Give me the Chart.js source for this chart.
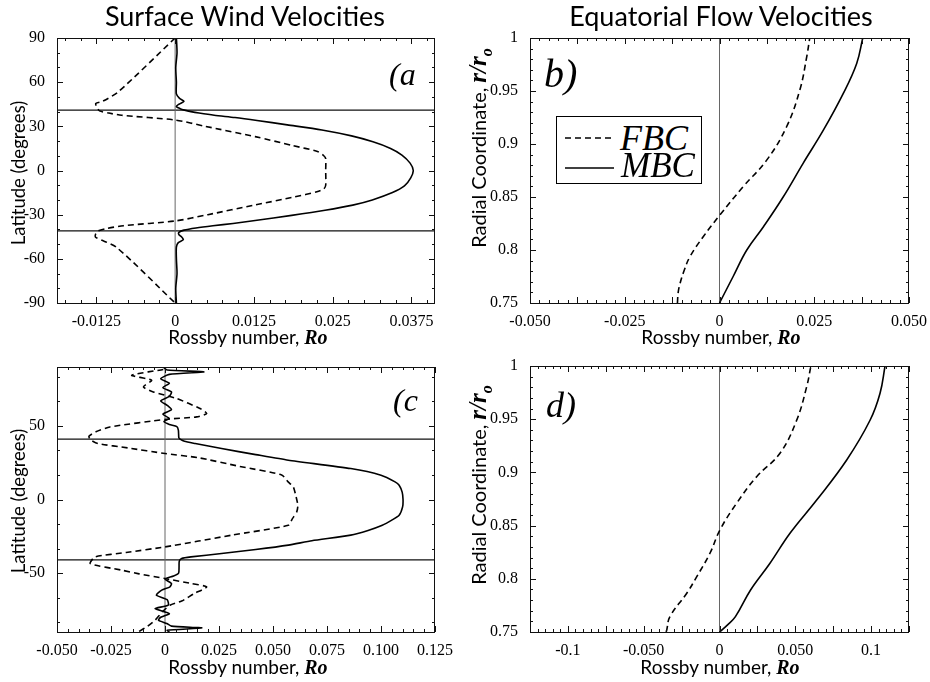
<!DOCTYPE html>
<html>
<head>
<meta charset="utf-8">
<script src="https://cdn.jsdelivr.net/npm/chart.js@4.4.1/dist/chart.umd.min.js"></script>
<style>
body{margin:0;background:#fff;}
#wrap{position:relative;width:930px;height:682px;overflow:hidden;font-family:Lato,"Open Sans",sans-serif;color:#000;}
canvas{position:absolute;}
.t{position:absolute;white-space:nowrap;line-height:1;}
.title{font-size:27px;width:400px;text-align:center;top:2px;}
.xt{font-size:19px;width:300px;text-align:center;}
.yt{font-size:18.5px;transform:translate(-50%,-50%) rotate(-90deg);}
.sym{font-family:"Liberation Serif",serif;font-weight:bold;font-style:italic;font-size:20px;}
.pl{font-family:"Liberation Serif",serif;font-style:italic;}
#legend{position:absolute;left:556px;top:116px;width:144px;height:66px;border:1px solid #000;background:#fff;}
</style>
</head>
<body>
<div id="wrap">
  <canvas id="pa" width="465" height="341" style="left:0;top:0"></canvas>
  <canvas id="pb" width="465" height="341" style="left:465px;top:0"></canvas>
  <canvas id="pc" width="465" height="341" style="left:0;top:341px"></canvas>
  <canvas id="pd" width="465" height="341" style="left:465px;top:341px"></canvas>

  <div class="t title" style="left:45px">Surface Wind Velocities</div>
  <div class="t title" style="left:521px">Equatorial Flow Velocities</div>

  <div class="t xt" style="left:98px;top:327px">Rossby number, <span class="sym">Ro</span></div>
  <div class="t xt" style="left:571px;top:327px">Rossby number, <span class="sym">Ro</span></div>
  <div class="t xt" style="left:98px;top:657px">Rossby number, <span class="sym">Ro</span></div>
  <div class="t xt" style="left:570px;top:657px">Rossby number, <span class="sym">Ro</span></div>

  <div class="t yt" style="left:18px;top:173px">Latitude (degrees)</div>
  <div class="t yt" style="left:18px;top:501px">Latitude (degrees)</div>
  <div class="t yt" style="left:480px;top:148px;font-size:20px">Radial Coordinate, <span class="sym" style="font-size:25px">r/r<sub style="font-size:16px">o</sub></span></div>
  <div class="t yt" style="left:480px;top:485px;font-size:20px">Radial Coordinate, <span class="sym" style="font-size:25px">r/r<sub style="font-size:16px">o</sub></span></div>

  <div class="t pl" style="left:389px;top:58px;font-size:32px">(a</div>
  <div class="t pl" style="left:544px;top:54px;font-size:40px">b)</div>
  <div class="t pl" style="left:393px;top:384px;font-size:32px">(c</div>
  <div class="t pl" style="left:546px;top:387px;font-size:36px">d)</div>

  <div id="legend">
    <svg width="144" height="66" style="position:absolute;left:0;top:0">
      <line x1="8" y1="21" x2="57" y2="21" stroke="#000" stroke-width="1.6" stroke-dasharray="6,4"/>
      <line x1="8" y1="51" x2="57" y2="51" stroke="#000" stroke-width="1.6"/>
    </svg>
    <div class="t pl" style="left:63px;top:3px;font-size:36px">FBC</div>
    <div class="t pl" style="left:64px;top:31px;font-size:35px">MBC</div>
  </div>
</div>

<script>
// (a) surface wind, latitude vs Rossby number
const latA_mbc = [90, 80, 70, 60, 52, 49, 47, 45, 43.5, 42, 41, 40, 39, 37.5, 36, 34, 31, 27.5, 23.5, 19.5, 15, 10.5, 5, 0,
  -5, -10.5, -15, -20, -23.5, -27, -30.5, -34, -36, -37.5, -39, -40.5, -42, -43.5, -45, -47, -49, -52, -60, -70, -80, -90];
const roA_mbc = [0.0002, 0.0003, 0.0001, 0.0002, 0.0002, 0.0007, 0.0014, 0.0006, 0.0002, 0.0008, 0.0015, 0.0025, 0.0038, 0.0062, 0.0095, 0.013, 0.0178, 0.0233, 0.028, 0.0314, 0.0342, 0.036, 0.0373, 0.0378,
  0.0374, 0.0364, 0.0345, 0.0313, 0.0282, 0.0238, 0.0185, 0.0127, 0.0092, 0.006, 0.0033, 0.0014, 0.0006, 0.0006, 0.0010, 0.0013, 0.0005, 0.0002, 0.0002, 0.0003, 0.0001, 0.0002];
const latA_fbc = [90, 53.5, 47, 45.5, 43, 40.5, 39, 37.5, 34.3, 30, 23, 17, 12.8, 10, 8, 0,
  -10, -12.5, -14.5, -18, -23.4, -30, -34.3, -37.5, -39.5, -41, -43, -45.4, -52.2, -90];
const roA_fbc = [0, -0.009, -0.0115, -0.0126, -0.0124, -0.012, -0.0105, -0.0085, 0, 0.0048, 0.0127, 0.0186, 0.0227, 0.0236, 0.0239, 0.0239,
  0.0239, 0.0236, 0.0225, 0.0189, 0.0127, 0.0052, 0, -0.0082, -0.011, -0.0122, -0.0126, -0.0126, -0.0093, 0];

// (b) equatorial flow, radius vs Rossby number
const rB_fbc = [0.75, 0.76, 0.7686, 0.78, 0.7937, 0.8125, 0.833, 0.86, 0.885, 0.9163, 0.951, 0.982, 1.0];
const roB_fbc = [-0.0111, -0.0109, -0.0104, -0.0094, -0.0078, -0.0043, 0.0001, 0.0063, 0.0125, 0.0177, 0.0212, 0.023, 0.0238];
const rB_mbc = [0.75, 0.775, 0.80, 0.822, 0.85, 0.882, 0.913, 0.948, 0.976, 1.0];
const roB_mbc = [0, 0.0036, 0.0072, 0.0116, 0.0168, 0.0221, 0.0274, 0.0327, 0.0362, 0.0378];

// (c) surface wind, second case
const latC_mbc = [90, 88, 86.7, 85, 82, 79, 76, 73, 70, 67, 64, 61, 58, 55, 53, 51, 49.5, 47, 42, 41, 39.5, 38, 34.6, 30.5, 26.7, 21, 16.5, 12, 9.7, 5, 0,
  -5, -10.7, -14, -17.5, -21, -24.2, -28, -31, -34, -36.7, -39, -40.1, -42, -46, -50, -52, -54, -57.1, -59.3, -61.6, -65, -68, -71.8, -74.1, -77.5, -80, -82, -84.2, -86, -87.2, -88.8, -90];
const roC_mbc = [-0.0008, 0.001, 0.018, 0.002, -0.002, 0.002, -0.001, 0.003, 0.002, -0.002, 0.001, 0.003, -0.001, 0.002, -0.0005, 0.002, 0.0055, 0.0062, 0.0064, 0.007, 0.009, 0.014, 0.0262, 0.042, 0.0571, 0.086, 0.1, 0.1065, 0.1084, 0.1098, 0.1102,
  0.11, 0.1084, 0.105, 0.1006, 0.094, 0.086, 0.068, 0.0571, 0.042, 0.0262, 0.012, 0.0077, 0.0066, 0.0065, 0.0063, 0.004, 0.0, 0.003, 0.0023, -0.0015, -0.004, 0.001, 0.0015, -0.0046, 0.002, -0.002, -0.003, 0.0008, 0.003, 0.017, 0.001, 0.002];
const latC_fbc = [88.3, 84.4, 81, 76.5, 73.1, 68.6, 61.8, 58.4, 56.1, 54.5, 49.3, 46, 43, 40.5, 38, 35, 31.2, 28.4, 22.5, 16.7, 12, 8.6, 3,
  -4, -8.4, -13, -17.5, -24.2, -32.2, -36, -39, -43.5, -48, -50.5, -53.7, -57, -59.4, -63.9, -69, -71.8, -76, -82, -86, -89.9];
const roC_fbc = [-0.0008, -0.0154, -0.0062, -0.010, -0.0054, 0.0054, 0.0162, 0.0193, 0.0147, 0.0008, -0.0255, -0.032, -0.0352, -0.0345, -0.0311, -0.017, 0, 0.0154, 0.0345, 0.054, 0.057, 0.0594, 0.0605,
  0.0615, 0.061, 0.059, 0.0571, 0.031, 0, -0.018, -0.0324, -0.0346, -0.020, -0.012, 0, 0.012, 0.0193, 0.0135, 0.0077, 0.0023, -0.001, -0.0046, -0.008, -0.0123];

// (d) equatorial flow, second case
const rD_fbc = [0.75, 0.7519, 0.7644, 0.7864, 0.802, 0.824, 0.846, 0.871, 0.896, 0.918, 0.949, 0.9805, 1.0];
const roD_fbc = [-0.0352, -0.0348, -0.0327, -0.0216, -0.015, -0.0063, 0.0003, 0.0113, 0.0245, 0.0399, 0.0509, 0.0575, 0.0603];
const rD_mbc = [0.75, 0.757, 0.7644, 0.7895, 0.8146, 0.8428, 0.874, 0.9117, 0.949, 0.9744, 1.0];
const roD_mbc = [0, 0.0055, 0.0105, 0.0205, 0.0333, 0.0465, 0.0641, 0.0839, 0.0993, 0.1059, 0.1092];

// tangent-cylinder latitudes drawn in (a) and (c)
const bandLat = [41, -41];

// tick labels
const xTicksA = [-0.0125, 0, 0.0125, 0.025, 0.0375];
const xLabelsA = ['-0.0125', '0', '0.0125', '0.025', '0.0375'];
const yTicksA = [-90, -60, -30, 0, 30, 60, 90];
const xTicksB = [-0.05, -0.025, 0, 0.025, 0.05];
const xLabelsB = ['-0.050', '-0.025', '0', '0.025', '0.050'];
const yTicksR = [0.75, 0.8, 0.85, 0.9, 0.95, 1];
const yLabelsR = ['0.75', '0.8', '0.85', '0.9', '0.95', '1'];
const xTicksC = [-0.05, -0.025, 0, 0.025, 0.05, 0.075, 0.1, 0.125];
const xLabelsC = ['-0.050', '-0.025', '0', '0.025', '0.050', '0.075', '0.100', '0.125'];
const yTicksC = [-50, 0, 50];
const xTicksD = [-0.1, -0.05, 0, 0.05, 0.1];
const xLabelsD = ['-0.1', '-0.050', '0', '0.050', '0.1'];

function pts(xs, ys) {
  return xs.map((x, i) => ({x: x, y: ys[i]}));
}

// frame + inward major/minor ticks on all four sides
const frameTicks = {
  id: 'frameTicks',
  afterDatasetsDraw(chart, args, opts) {
    const ctx = chart.ctx, a = chart.chartArea;
    const sx = chart.scales.x, sy = chart.scales.y;
    ctx.save();
    ctx.strokeStyle = '#111';
    ctx.lineWidth = 1;
    function marks(scale, minor, major, horiz) {
      const k0 = Math.ceil(scale.min / minor - 1e-6), k1 = Math.floor(scale.max / minor + 1e-6);
      for (let k = k0; k <= k1; k++) {
        const v = k * minor;
        const isMajor = Math.abs(v / major - Math.round(v / major)) < 1e-6;
        const len = isMajor ? 6 : 3;
        const p = Math.round(scale.getPixelForValue(v)) + 0.5;
        ctx.beginPath();
        if (horiz) {
          ctx.moveTo(p, a.bottom); ctx.lineTo(p, a.bottom - len);
          ctx.moveTo(p, a.top); ctx.lineTo(p, a.top + len);
        } else {
          ctx.moveTo(a.left, p); ctx.lineTo(a.left + len, p);
          ctx.moveTo(a.right, p); ctx.lineTo(a.right - len, p);
        }
        ctx.stroke();
      }
    }
    marks(sx, opts.xMinor, opts.xMajor, true);
    marks(sy, opts.yMinor, opts.yMajor, false);
    ctx.strokeRect(a.left + 0.5, a.top + 0.5, a.right - a.left - 1, a.bottom - a.top);
    ctx.restore();
  }
};

const tickFont = {family: 'Liberation Serif', size: 16};

function panel(id, p) {
  const sets = [
    {data: p.mbc, borderColor: '#000', borderWidth: 1.6, tension: p.tension},
    {data: p.fbc, borderColor: '#000', borderWidth: 1.6, borderDash: [6, 4], tension: p.tension},
    {data: pts([0, 0], [p.yMin, p.yMax]), borderColor: '#666', borderWidth: 1, tension: 0}
  ];
  (p.bands || []).forEach(b => {
    sets.push({data: pts([p.xMin, p.xMax], [b, b]), borderColor: '#111', borderWidth: 1.3, tension: 0});
  });
  sets.forEach(s => { s.showLine = true; s.pointRadius = 0; s.fill = false; });
  return new Chart(document.getElementById(id), {
    type: 'scatter',
    data: {datasets: sets},
    options: {
      responsive: false,
      animation: false,
      events: [],
      layout: {padding: {left: 0, top: p.top, right: p.right, bottom: 0}},
      plugins: {
        legend: {display: false},
        tooltip: {enabled: false},
        frameTicks: {xMinor: p.xMinor, xMajor: p.xMajor, yMinor: p.yMinor, yMajor: p.yMajor}
      },
      scales: {
        x: {
          type: 'linear', min: p.xMin, max: p.xMax,
          grid: {display: false}, border: {display: false},
          afterFit: s => { s.height = p.xh; },
          afterBuildTicks: s => { s.ticks = p.xTicks.map(v => ({value: v})); },
          ticks: {autoSkip: false, maxRotation: 0, padding: 1, color: '#000', font: tickFont,
            callback: (v, i) => p.xLabels[i]}
        },
        y: {
          type: 'linear', min: p.yMin, max: p.yMax,
          grid: {display: false}, border: {display: false},
          afterFit: s => { s.width = p.left; },
          afterBuildTicks: s => { s.ticks = p.yTicks.map(v => ({value: v})); },
          ticks: {autoSkip: false, padding: 4, color: '#000', font: tickFont,
            callback: (v, i) => p.yLabels[i]}
        }
      }
    },
    plugins: [frameTicks]
  });
}

panel('pa', {
  mbc: pts(roA_mbc, latA_mbc), fbc: pts(roA_fbc, latA_fbc), tension: 0.25, bands: bandLat,
  xMin: -0.01875, xMax: 0.04125, yMin: -90, yMax: 90,
  xTicks: xTicksA, xLabels: xLabelsA, yTicks: yTicksA, yLabels: yTicksA.map(String),
  xMinor: 0.0025, xMajor: 0.0125, yMinor: 10, yMajor: 30,
  left: 57, top: 38, right: 30, xh: 38
});
panel('pb', {
  mbc: pts(roB_mbc, rB_mbc), fbc: pts(roB_fbc, rB_fbc), tension: 0.4,
  xMin: -0.05, xMax: 0.05, yMin: 0.75, yMax: 1,
  xTicks: xTicksB, xLabels: xLabelsB, yTicks: yTicksR, yLabels: yLabelsR,
  xMinor: 0.0025, xMajor: 0.0125, yMinor: 0.01, yMajor: 0.05,
  left: 65, top: 38, right: 21, xh: 38
});
panel('pc', {
  mbc: pts(roC_mbc, latC_mbc), fbc: pts(roC_fbc, latC_fbc), tension: 0.2, bands: bandLat,
  xMin: -0.05, xMax: 0.125, yMin: -90, yMax: 90,
  xTicks: xTicksC, xLabels: xLabelsC, yTicks: yTicksC, yLabels: yTicksC.map(String),
  xMinor: 0.005, xMajor: 0.025, yMinor: 50 / 3, yMajor: 50,
  left: 57, top: 26, right: 30, xh: 50
});
panel('pd', {
  mbc: pts(roD_mbc, rD_mbc), fbc: pts(roD_fbc, rD_fbc), tension: 0.4,
  xMin: -0.125, xMax: 0.125, yMin: 0.75, yMax: 1,
  xTicks: xTicksD, xLabels: xLabelsD, yTicks: yTicksR, yLabels: yLabelsR,
  xMinor: 0.005, xMajor: 0.025, yMinor: 0.01, yMajor: 0.05,
  left: 65, top: 25, right: 21, xh: 50
});
</script>
</body>
</html>
